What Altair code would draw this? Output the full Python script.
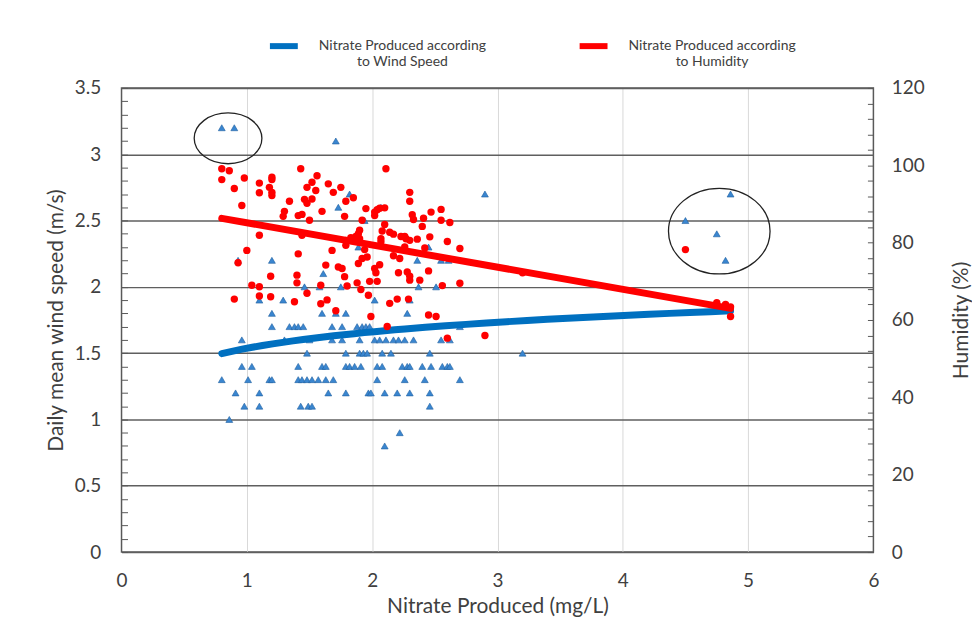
import altair as alt
import pandas as pd

# ---------------- data ----------------
# Blue triangles: daily mean wind speed (m/s) -> nitrate produced (mg/L) values
wind_x_by_speed = {
    3.2: [0.80, 0.90],
    3.1: [1.71],
    2.7: [1.82, 2.90, 4.86],
    2.6: [1.73, 2.07],
    2.5: [1.94, 4.50],
    2.4: [4.75],
    2.3: [1.89, 2.45],
    2.2: [0.93, 1.20, 2.36, 2.55, 2.61, 4.82],
    2.1: [1.61],
    2.0: [1.46, 1.58, 1.75, 2.37, 2.51],
    1.9: [1.10, 1.29, 2.02, 2.30],
    1.8: [1.20, 1.60, 1.71, 1.79, 2.28],
    1.7: [1.20, 1.34, 1.38, 1.41, 1.45, 1.68, 1.76, 1.88, 1.92, 1.95, 1.98, 2.12, 2.70],
    1.6: [0.96, 1.30, 1.50, 1.68, 1.76, 1.90, 2.02, 2.06, 2.11, 2.17, 2.21, 2.26, 2.33, 2.55, 2.62],
    1.5: [1.48, 1.79, 1.90, 1.93, 1.96, 2.08, 2.15, 2.46, 3.20],
    1.4: [0.96, 1.04, 1.41, 1.60, 1.63, 1.79, 1.82, 1.86, 1.91, 2.04, 2.08, 2.24, 2.28, 2.30,
          2.40, 2.47, 2.56, 2.60, 2.62],
    1.3: [0.80, 1.01, 1.18, 1.20, 1.41, 1.44, 1.48, 1.52, 1.57, 1.63, 1.69, 2.04, 2.26, 2.42, 2.70],
    1.2: [0.91, 1.10, 1.65, 1.79, 1.97, 1.99, 2.10, 2.20, 2.30, 2.46],
    1.1: [0.98, 1.10, 1.43, 1.49, 1.52, 2.46],
    1.0: [0.86],
    0.9: [2.22],
    0.8: [2.10],
}

# Red circles: humidity (%) vs nitrate produced (mg/L)
hum_x = [0.80, 0.86, 0.80, 0.98, 0.90, 1.10, 1.10, 1.20, 1.20, 1.18, 1.20, 1.20, 0.96, 1.43,
         1.48, 1.52, 1.56, 1.55, 1.46, 1.48, 1.52, 1.34, 1.30, 1.29, 1.41, 1.44, 1.50, 1.10,
         1.44, 1.00, 1.65, 1.75, 1.69, 1.60, 1.78, 1.41, 1.68, 0.93, 1.19, 1.40, 1.40, 1.63,
         1.73, 1.76, 1.78, 1.04, 1.10, 1.48, 1.59, 1.80, 1.10, 1.19, 0.90, 1.38, 1.59, 2.11,
         2.30, 2.30, 1.85, 1.79, 1.95, 2.02, 2.04, 2.06, 2.10, 2.02, 1.92, 2.32, 2.33, 2.47,
         2.55, 2.55, 2.62, 2.41, 2.40, 2.10, 2.08, 1.90, 1.89, 2.14, 2.17, 2.23, 2.26, 2.27,
         2.30, 2.36, 2.46, 2.07, 2.07, 1.83, 1.85, 1.87, 1.79, 1.79, 1.90, 2.26, 2.42, 1.94,
         2.60, 2.70, 2.17, 2.22, 1.96, 1.92, 1.89, 2.06, 2.02, 2.03, 2.21, 2.28, 2.30, 2.30,
         2.45, 2.38, 1.98, 2.04, 1.88, 1.91, 2.56, 2.70, 1.97, 2.20, 2.29, 1.64, 1.71, 1.99,
         2.14, 2.45, 2.51, 2.60, 2.90, 2.12, 3.20, 4.50, 4.75, 4.82, 4.86, 4.86]
hum_pct = [99.1, 98.6, 96.3, 96.7, 94.0, 95.4, 92.9, 96.9, 96.3, 94.3, 93.0, 92.2, 89.6, 99.1,
           94.3, 95.6, 97.3, 93.5, 91.2, 90.2, 91.3, 90.7, 88.1, 86.8, 87.0, 87.3, 85.8, 81.9,
           81.9, 78.0, 95.2, 94.3, 93.0, 88.1, 86.8, 77.1, 78.0, 74.8, 71.3, 71.6, 69.6, 74.2,
           73.7, 73.3, 71.2, 69.0, 68.6, 66.9, 69.0, 68.8, 66.2, 66.0, 65.4, 64.7, 64.2, 99.1,
           93.0, 90.7, 91.6, 90.7, 88.8, 87.9, 88.5, 88.9, 89.0, 87.0, 85.8, 87.2, 86.0, 87.9,
           88.6, 85.8, 85.2, 86.3, 84.2, 84.7, 83.0, 83.2, 82.3, 82.7, 82.2, 81.6, 81.6, 81.0,
           80.6, 80.9, 81.5, 81.0, 80.2, 81.3, 81.0, 81.6, 80.6, 79.3, 81.0, 78.9, 78.6, 78.2,
           80.3, 78.5, 76.6, 75.9, 76.3, 75.9, 74.6, 74.3, 73.3, 72.2, 72.2, 72.4, 71.3, 70.3,
           72.7, 70.3, 70.0, 70.0, 69.6, 67.9, 68.9, 69.5, 66.4, 65.4, 65.4, 65.2, 62.4, 60.9,
           64.3, 61.3, 60.9, 55.3, 56.0, 58.3, 72.2, 78.2, 64.5, 64.0, 63.4, 60.9]

# hand-drawn ellipses around the outliers (centre in data units)
ellipse_left_x = [0.85]
ellipse_left_speed = [3.12]
ellipse_right_x = [4.77]
ellipse_right_speed = [2.42]

x_ticks = [0, 1, 2, 3, 4, 5, 6]
wind_ticks = [round(i * 0.1, 1) for i in range(36)]
hum_ticks = list(range(0, 121, 4))

WIND = "Nitrate Produced according|to Wind Speed"
HUM = "Nitrate Produced according|to Humidity"

# ---------------- tables ----------------
wx, wy = [], []
for spd, xs in wind_x_by_speed.items():
    for v in xs:
        wx.append(v)
        wy.append(spd)
wind_df = pd.DataFrame({"x": wx, "speed": wy, "series": WIND})
hum_df = pd.DataFrame({"x": hum_x, "hum": hum_pct, "series": HUM})
ell_l = pd.DataFrame({"x": ellipse_left_x, "speed": ellipse_left_speed})
ell_r = pd.DataFrame({"x": ellipse_right_x, "speed": ellipse_right_speed})

FONT = "Lato"
TXT = "#404040"
GRID_DARK = "#5f5f5f"
half_test = "abs(datum.value*2 - round(datum.value*2)) < 0.001"

x_axis = alt.Axis(
    values=x_ticks, title="Nitrate Produced (mg/L)", grid=True, gridColor="#d9d9d9",
    gridOpacity={"condition": {"test": "datum.value > 0 && datum.value < 6", "value": 1}, "value": 0},
    labelExpr="'' + datum.value", labelFlush=False,
    domain=False, ticks=False, tickSize=0, labelPadding=20, labelFontSize=19,
    titleX=377.5, titleY=55, titleBaseline="middle", titleAlign="center",
)
x_scale = alt.Scale(domain=[0, 6], nice=False)


def xe():
    return alt.X("x:Q", scale=x_scale, axis=x_axis)


wind_axis = alt.Axis(
    orient="left", values=wind_ticks, offset=-6, domain=False, ticks=True, tickSize=6,
    tickColor="#595959", tickWidth=1,
    labelExpr=f"{half_test} ? '' + round(datum.value*10)/10 : ''",
    labelPadding=21, labelFontSize=19, labelFlush=False,
    grid=True, gridColor=GRID_DARK, gridWidth=1.5,
    gridOpacity={"condition": {"test": half_test, "value": 1}, "value": 0},
    title="Daily mean wind speed (m/s)", titleAngle=270, titleX=-71, titleY=233,
    titleAlign="center", titleBaseline="middle",
)
wind_scale = alt.Scale(domain=[0, 3.5], nice=False)


def wye():
    return alt.Y("speed:Q", scale=wind_scale, axis=wind_axis)


hum_axis = alt.Axis(
    orient="right", values=hum_ticks, offset=-6, domain=False, ticks=True, tickSize=6,
    tickColor="#595959", tickWidth=1,
    labelExpr="datum.value % 20 == 0 ? '' + datum.value : ''",
    labelPadding=18, labelFontSize=19, labelFlush=False, grid=False,
    title="Humidity (%)", titleAngle=270, titleX=94, titleY=233,
    titleAlign="center", titleBaseline="middle",
)
hum_scale = alt.Scale(domain=[0, 120], nice=False)


def hye():
    return alt.Y("hum:Q", scale=hum_scale, axis=hum_axis)


color = alt.Color(
    "series:N",
    scale=alt.Scale(domain=[WIND, HUM], range=["#0070C0", "#FF0000"]),
    legend=alt.Legend(
        title=None, orient="none", legendX=146, legendY=-59, direction="horizontal", columns=2,
        symbolType="stroke", symbolSize=784, symbolStrokeWidth=6,
        labelExpr="split(datum.label, '|')", labelAlign="center", labelBaseline="middle",
        labelOffset=102, labelFont=FONT, labelFontSize=14, labelColor=TXT, labelLimit=0,
        columnPadding=82, padding=0,
    ),
)

blue_pts = alt.Chart(wind_df).mark_point(
    shape="triangle-up", filled=True, size=48, fill="#3A86D0", stroke="#1F5F9F",
    strokeWidth=0.6, opacity=1,
).encode(x=xe(), y=wye())

blue_line = alt.Chart(wind_df).transform_regression(
    "x", "speed", method="log", groupby=["series"]
).mark_line(strokeWidth=7, strokeCap="round").encode(x=xe(), y=wye(), color=color)

ell_path_l = "M -1.333 0 A 1.333 1 0 1 0 1.333 0 A 1.333 1 0 1 0 -1.333 0 Z"
ell_path_r = "M -1.186 0 A 1.186 1 0 1 0 1.186 0 A 1.186 1 0 1 0 -1.186 0 Z"
ell_left = alt.Chart(ell_l).mark_point(
    shape=ell_path_l, size=2601, filled=False, stroke="#222222", strokeWidth=1.3, opacity=1
).encode(x=xe(), y=wye())
ell_right = alt.Chart(ell_r).mark_point(
    shape=ell_path_r, size=7396, filled=False, stroke="#222222", strokeWidth=1.3, opacity=1
).encode(x=xe(), y=wye())

red_pts = alt.Chart(hum_df).mark_circle(size=55, color="#FF0000", opacity=1).encode(
    x=xe(), y=hye()
)
red_line = alt.Chart(hum_df).transform_regression(
    "x", "hum", method="linear", groupby=["series"]
).mark_line(strokeWidth=7, strokeCap="round").encode(x=xe(), y=hye(), color=color)

wind_layer = alt.layer(blue_pts, blue_line, ell_left, ell_right)
hum_layer = alt.layer(red_pts, red_line)

chart = (
    alt.layer(wind_layer, hum_layer)
    .resolve_scale(y="independent")
    .properties(
        width=755, height=466,
        padding={"left": 114, "top": 79, "right": 99, "bottom": 75},
        autosize=alt.AutoSizeParams(type="none"),
        background="white",
    )
    .configure_view(stroke="#595959", strokeWidth=1.5)
    .configure_axis(
        labelFont=FONT, titleFont=FONT, labelColor=TXT, titleColor=TXT,
        titleFontSize=21, titleFontWeight="normal",
    )
)

chart.save("out.html", embed_options={"renderer": "svg", "actions": False})
